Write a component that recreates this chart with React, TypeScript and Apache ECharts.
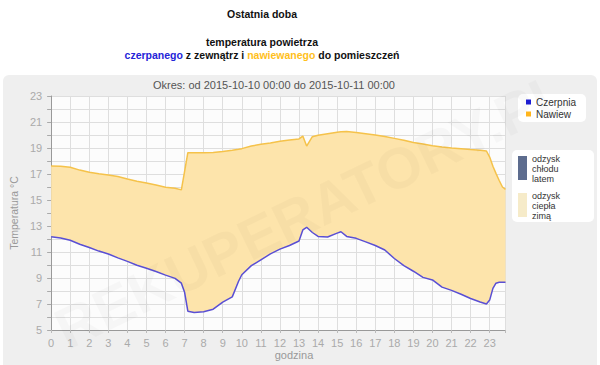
import React, { useEffect, useRef } from "react";
import * as echarts from "echarts";

// hour of the day (0 .. 23:50)
const hours = [
  0, 0.5, 1, 1.5, 2, 2.5, 3, 3.5, 4, 4.5, 5, 5.5, 6, 6.5, 6.83, 7, 7.17, 7.5, 8, 8.5, 9, 9.5, 9.83,
  10, 10.5, 11, 11.5, 12, 12.5, 13, 13.2, 13.4, 13.7, 14, 14.5, 15, 15.2, 15.5, 16, 16.5, 17, 17.5,
  18, 18.5, 19, 19.5, 20, 20.5, 21, 21.5, 22, 22.5, 22.83, 23, 23.17, 23.33, 23.5, 23.67, 23.83,
];

// air drawn in from outside (Czerpnia)
const czerpnia = [
  12.18, 12.08, 11.9, 11.6, 11.35, 11.07, 10.85, 10.55, 10.28, 9.98, 9.75, 9.5, 9.22, 8.97, 8.6, 7.9,
  6.45, 6.35, 6.4, 6.6, 7.15, 7.55, 8.75, 9.25, 9.95, 10.4, 10.85, 11.22, 11.5, 11.85, 12.7, 12.9,
  12.5, 12.2, 12.15, 12.45, 12.56, 12.2, 12.05, 11.78, 11.5, 11.15, 10.5, 9.95, 9.52, 9.05, 8.85,
  8.3, 8.05, 7.75, 7.42, 7.15, 7.0, 7.3, 8.2, 8.6, 8.67, 8.67, 8.67,
];

// air supplied to rooms (Nawiew)
const nawiew = [
  17.62, 17.6, 17.52, 17.3, 17.13, 17.02, 16.93, 16.8, 16.62, 16.45, 16.3, 16.15, 15.98, 15.9, 15.78,
  17.2, 18.64, 18.64, 18.64, 18.66, 18.73, 18.83, 18.9, 18.95, 19.15, 19.28, 19.38, 19.52, 19.62,
  19.7, 19.92, 19.15, 19.87, 19.98, 20.1, 20.22, 20.25, 20.26, 20.2, 20.1, 20.0, 19.88, 19.74, 19.6,
  19.42, 19.3, 19.17, 19.08, 19.0, 18.95, 18.88, 18.82, 18.77, 18.3, 17.6, 17.05, 16.5, 16.0, 15.82,
];

const yTickLabels = ["5", "7", "9", "11", "13", "15", "17", "19", "21", "23"];
const xTickLabels = Array.from({ length: 24 }, (_, i) => String(i));

const FONT = "'Liberation Sans', Arial, sans-serif";

export default function App() {
  const ref = useRef<HTMLDivElement>(null);

  useEffect(() => {
    const chart = echarts.init(ref.current!, null, { renderer: "svg" });
    chart.setOption({
      animation: false,
      textStyle: { fontFamily: FONT },
      grid: {
        left: 50,
        right: 94.5,
        top: 96,
        bottom: 35,
        show: true,
        backgroundColor: "#fcfcfc",
        borderWidth: 0,
      },
      legend: {
        orient: "vertical",
        left: 518,
        top: 94,
        data: [
          { name: "Czerpnia", itemStyle: { color: "#1d1dd6" } },
          { name: "Nawiew", itemStyle: { color: "#ffb51c" } },
        ],
        icon: "rect",
        itemWidth: 5,
        itemHeight: 5,
        itemGap: 2,
        padding: [3, 10, 3, 8],
        backgroundColor: "#ffffff",
        borderRadius: 5,
        selectedMode: false,
        textStyle: { fontSize: 10, color: "#333", fontFamily: FONT },
      },
      xAxis: {
        type: "value",
        min: 0,
        max: 23.83,
        interval: 1,
        axisLine: { lineStyle: { color: "#999" } },
        axisTick: { show: true, length: 3, lineStyle: { color: "#bbb" } },
        axisLabel: {
          color: "#aaa",
          fontSize: 11,
          margin: 7,
          formatter: (v: number) => (Number.isInteger(v) ? xTickLabels[v] ?? "" : ""),
        },
        splitLine: { show: true, lineStyle: { color: "#dedede", width: 1 } },
      },
      yAxis: {
        type: "value",
        min: 5,
        max: 23,
        interval: 1,
        name: "Temperatura °C",
        nameLocation: "middle",
        nameGap: 22,
        nameTextStyle: { color: "#999", fontSize: 10.5, fontFamily: FONT },
        axisLine: { show: true, lineStyle: { color: "#999" } },
        axisTick: { show: true, length: 4, lineStyle: { color: "#aaa" } },
        axisLabel: {
          color: "#aaa",
          fontSize: 11,
          margin: 9,
          formatter: (v: number) => (yTickLabels.includes(String(v)) ? String(v) : ""),
        },
        splitLine: { show: true, lineStyle: { color: "#dedede", width: 1 } },
      },
      series: [
        {
          name: "band",
          type: "custom",
          silent: true,
          z: 1,
          data: [[hours[0], czerpnia[0]]],
          renderItem: (_params: any, api: any) => {
            const top = hours.map((h, i) => api.coord([h, nawiew[i]]));
            const bottom = hours.map((h, i) => api.coord([h, czerpnia[i]])).reverse();
            return {
              type: "polygon",
              shape: { points: top.concat(bottom) },
              style: { fill: "#fde4ab", stroke: "none" },
            };
          },
        },
        {
          name: "Czerpnia",
          type: "line",
          data: hours.map((h, i) => [h, czerpnia[i]]),
          symbol: "none",
          lineStyle: { color: "#5a4fd4", width: 1.5 },
          itemStyle: { color: "#5a4fd4" },
          z: 3,
        },
        {
          name: "Nawiew",
          type: "line",
          data: hours.map((h, i) => [h, nawiew[i]]),
          symbol: "none",
          lineStyle: { color: "#f5c24a", width: 1.5 },
          itemStyle: { color: "#f5c24a" },
          z: 3,
        },
      ],
      graphic: [
        {
          type: "text",
          x: 262,
          y: 14,
          style: {
            text: "Ostatnia doba",
            font: `bold 10.5px ${FONT}`,
            fill: "#111",
            align: "center",
            verticalAlign: "middle",
          },
        },
        {
          type: "text",
          x: 262,
          y: 42,
          style: {
            text: "temperatura powietrza",
            font: `bold 10.5px ${FONT}`,
            fill: "#111",
            align: "center",
            verticalAlign: "middle",
          },
        },
        {
          type: "text",
          x: 262,
          y: 55,
          style: {
            text: "{b|czerpanego}{k| z zewnątrz i }{y|nawiewanego}{k| do pomieszczeń}",
            font: `bold 10.5px ${FONT}`,
            align: "center",
            verticalAlign: "middle",
            rich: {
              b: { fill: "#2424d8", font: `bold 10.5px ${FONT}` },
              k: { fill: "#111", font: `bold 10.5px ${FONT}` },
              y: { fill: "#ffc01c", font: `bold 10.5px ${FONT}` },
            },
          },
        },
        {
          type: "text",
          x: 274,
          y: 85,
          style: {
            text: "Okres: od 2015-10-10 00:00 do 2015-10-11 00:00",
            font: `11px ${FONT}`,
            fill: "#555",
            align: "center",
            verticalAlign: "middle",
          },
        },
        {
          type: "text",
          x: 294,
          y: 355,
          style: {
            text: "godzina",
            font: `11px ${FONT}`,
            fill: "#999",
            align: "center",
            verticalAlign: "middle",
          },
        },
        {
          type: "group",
          children: [
            {
              type: "rect",
              shape: { x: 512, y: 150, width: 82, height: 72, r: 5 },
              style: { fill: "#ffffff" },
            },
            {
              type: "rect",
              shape: { x: 518, y: 156, width: 9, height: 24 },
              style: { fill: "#5d6c8e" },
            },
            {
              type: "text",
              x: 532,
              y: 154,
              style: {
                text: "odzysk\nchłodu\nlatem",
                font: `9px ${FONT}`,
                lineHeight: 10,
                fill: "#333",
              },
            },
            {
              type: "rect",
              shape: { x: 518, y: 193, width: 9, height: 24 },
              style: { fill: "#f6ebc9" },
            },
            {
              type: "text",
              x: 532,
              y: 191,
              style: {
                text: "odzysk\nciepła\nzimą",
                font: `9px ${FONT}`,
                lineHeight: 10,
                fill: "#333",
              },
            },
          ],
        },
        {
          type: "text",
          x: 312,
          y: 210,
          rotation: 0.45,
          z: 100,
          silent: true,
          style: {
            text: "REKUPERATORY.PL",
            font: `bold 58px ${FONT}`,
            fill: "rgba(0,0,0,0.025)",
            align: "center",
            verticalAlign: "middle",
          },
        },
      ],
    });
    return () => chart.dispose();
  }, []);

  return (
    <div style={{ position: "fixed", left: 0, top: 0, width: 600, height: 365, background: "#fff" }}>
      <div
        style={{
          position: "absolute",
          left: 3,
          top: 75,
          width: 594,
          height: 300,
          background: "#efefef",
          borderRadius: 6,
        }}
      />
      <div ref={ref} style={{ position: "absolute", left: 0, top: 0, width: 600, height: 365 }} />
    </div>
  );
}
